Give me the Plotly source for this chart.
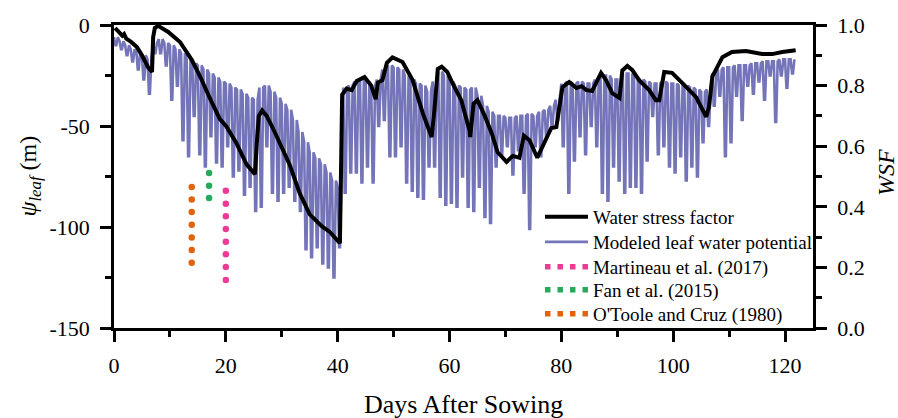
import plotly.graph_objects as go

# ---------------- data ----------------
# Water stress factor (right axis): day, WSF
wsf_day = [0.2, 1.0, 1.5, 1.8, 2.2, 3.0, 4.1, 5.0, 6.1, 6.8, 7.0, 7.3, 7.9, 9.7, 11.8, 13.9,
           15.4, 17.1, 18.9, 20.1, 21.9, 23.7, 25.2, 25.5, 25.9, 26.5, 27.3, 28.4, 29.6, 31.4,
           33.2, 35.0, 37.2, 38.6, 40.4, 40.6, 40.8, 41.6, 42.5, 43.4, 44.8, 46.0, 46.8, 47.2,
           48.0, 48.8, 49.8, 51.6, 53.4, 55.2, 56.8, 57.3, 57.9, 58.6, 59.6, 60.5, 62.1, 63.6,
           63.7, 64.3, 65.0, 66.3, 67.6, 68.6, 70.2, 71.3, 72.5, 73.3, 74.3, 75.7, 77.3, 78.2,
           79.1, 80.2, 81.4, 82.7, 83.6, 84.5, 85.5, 87.1, 88.0, 89.1, 90.4, 90.9, 91.8, 92.7,
           93.9, 95.7, 96.9, 97.5, 98.4, 99.8, 101.6, 104.1, 105.9, 106.4, 107.0, 108.8, 110.5,
           113.0, 115.9, 117.7, 119.5, 121.9]
wsf_val = [0.99, 0.975, 0.965, 0.97, 0.955, 0.945, 0.927, 0.9, 0.86, 0.845, 0.96, 0.99, 0.997,
           0.977, 0.944, 0.885, 0.83, 0.76, 0.69, 0.665, 0.61, 0.54, 0.508, 0.6, 0.7, 0.718, 0.7,
           0.66, 0.615, 0.54, 0.445, 0.375, 0.335, 0.317, 0.28, 0.6, 0.77, 0.79, 0.785, 0.815,
           0.828, 0.8, 0.755, 0.81, 0.818, 0.875, 0.893, 0.878, 0.818, 0.71, 0.63, 0.72, 0.855,
           0.862, 0.845, 0.809, 0.752, 0.65, 0.63, 0.74, 0.752, 0.7, 0.64, 0.58, 0.548, 0.568,
           0.562, 0.635, 0.62, 0.562, 0.63, 0.66, 0.663, 0.795, 0.812, 0.792, 0.798, 0.785, 0.782,
           0.842, 0.818, 0.775, 0.759, 0.85, 0.865, 0.851, 0.818, 0.785, 0.752, 0.752, 0.845,
           0.842, 0.809, 0.762, 0.697, 0.73, 0.83, 0.894, 0.911, 0.914, 0.904, 0.904, 0.911, 0.917]

# Modeled leaf water potential (m): daily (night) upper value and daily (midday) minimum, days 0..121
psi_upper = [-6, -8, -10, -12, -13, -15, -17, -9, -7, -9,
             -10, -12, -14, -17, -19, -20, -22, -24, -26, -28,
             -29, -31, -32, -34, -36, -37, -31, -30, -33, -36,
             -39, -42, -47, -53, -58, -63, -66, -69, -73, -77,
             -80, -31, -30, -28, -27, -28, -30, -27, -22, -20,
             -21, -22, -25, -27, -29, -30, -33, -28, -23, -25,
             -28, -30, -31, -32, -31, -35, -40, -43, -45, -45,
             -46, -46, -45, -45, -44, -45, -43, -42, -40, -37,
             -29, -28, -29, -28, -29, -29, -27, -25, -25, -27,
             -27, -24, -24, -26, -27, -28, -29, -29, -28, -29,
             -29, -30, -30, -31, -32, -33, -32, -24, -22, -21,
             -21, -20, -20, -20, -19, -19, -18, -18, -18, -17,
             -17, -17]
psi_lower = [-10, -12, -15, -18, -22, -27, -34, -14, -14, -20,
             -37, -30, -57, -65, -45, -64, -70, -55, -68, -70,
             -60, -75, -72, -84, -80, -92, -90, -60, -83, -87,
             -83, -80, -87, -92, -111, -115, -110, -118, -120, -125,
             -110, -83, -73, -73, -78, -70, -78, -50, -47, -65,
             -65, -60, -78, -82, -85, -86, -70, -70, -85, -89,
             -88, -90, -75, -90, -92, -80, -95, -98, -70, -64,
             -60, -74, -62, -83, -101, -60, -65, -55, -50, -47,
             -60, -83, -67, -55, -64, -50, -60, -83, -87, -70,
             -77, -83, -80, -80, -83, -67, -45, -64, -60, -70,
             -73, -65, -77, -70, -75, -58, -50, -40, -35, -65,
             -58, -35, -47, -30, -34, -28, -37, -25, -48, -25,
             -31, -24]

# Observed leaf water potential (m)
martineau_day = 20.0
martineau_psi = [-82, -88.5, -94.7, -101, -107.3, -113.5, -119.8, -126.2]
fan_day = 17.0
fan_psi = [-73.3, -79.6, -85.7]
otoole_day = 13.9
otoole_psi = [-80.2, -86.4, -92.6, -98.9, -105.2, -111.4, -117.7]

y_tickvals = [-150, -100, -50, 0]
y_ticktext = ["-150", "-100", "-50", "0"]

# ---------------- build ----------------
# each day: night value, midday drop, recovery
psi_x, psi_y = [], []
for i, (u, lo) in enumerate(zip(psi_upper, psi_lower)):
    psi_x += [i, i + 0.25, i + 0.42, i + 0.68]
    psi_y += [u, lo, lo, u]

FONT = '"Liberation Serif", "Times New Roman", Times, serif'
PURPLE = "#7474B9"
PINK = "#EC3A95"
GREEN = "#27A85A"
ORANGE = "#E0640F"

fig = go.Figure()

fig.add_trace(go.Scatter(x=psi_x, y=psi_y, mode="lines", name="Modeled leaf water potential",
                         line=dict(color=PURPLE, width=2.6), legend="legend2"))
fig.add_trace(go.Scatter(x=wsf_day, y=wsf_val, mode="lines", name="Water stress factor",
                         line=dict(color="black", width=4), yaxis="y2", legend="legend"))

obs = [("Martineau et al. (2017)", martineau_day, martineau_psi, PINK, "legend3"),
       ("Fan et al. (2015)", fan_day, fan_psi, GREEN, "legend4"),
       ("O'Toole and Cruz (1980)", otoole_day, otoole_psi, ORANGE, "legend5")]
for name, day, vals, col, lg in obs:
    fig.add_trace(go.Scatter(x=[day] * len(vals), y=vals, mode="markers", name=name,
                             marker=dict(color=col, size=6.5), legendgroup=name,
                             showlegend=False))
    fig.add_trace(go.Scatter(x=[None], y=[None], mode="lines", name=name, legendgroup=name,
                             line=dict(color=col, width=5.5, dash="5.5px,7px"), legend=lg))

axis_common = dict(showgrid=False, zeroline=False, linecolor="black", linewidth=2.5,
                   ticks="outside", ticklen=11, tickwidth=2.5, tickcolor="black",
                   automargin=False,
                   tickfont=dict(family=FONT, size=22, color="black"))

leg_x = 0.6094
leg_ys = [0.3663, 0.2838, 0.2013, 0.1254, 0.0462]
legends = {}
for k, yy in enumerate(leg_ys):
    key = "legend" if k == 0 else f"legend{k + 1}"
    legends[key] = dict(x=leg_x, y=yy, xanchor="left", yanchor="middle",
                        bgcolor="rgba(0,0,0,0)", borderwidth=0,
                        font=dict(family=FONT, size=19, color="black"), itemwidth=43)

fig.update_layout(
    width=898, height=418,
    margin=dict(l=114, r=85, t=25, b=90, autoexpand=False),
    paper_bgcolor="white", plot_bgcolor="white",
    font=dict(family=FONT, color="black"),
    xaxis=dict(range=[0, 125], dtick=20, tick0=0, mirror=True,
               minor=dict(dtick=10, ticks="outside", ticklen=6, tickwidth=2.5, tickcolor="black"),
               ticklabelstandoff=5,
               **axis_common),
    yaxis=dict(range=[-150, 0], tickmode="array", tickvals=y_tickvals, ticktext=y_ticktext,
               minor=dict(tickmode="linear", tick0=0, dtick=25, ticks="outside", ticklen=6,
                          tickwidth=2.5, tickcolor="black"),
               ticklabelstandoff=6,
               **axis_common),
    yaxis2=dict(range=[0, 1], dtick=0.2, tick0=0, overlaying="y", side="right",
                tickformat=".1f",
                minor=dict(dtick=0.1, ticks="outside", ticklen=6, tickwidth=2.5, tickcolor="black"),
                ticklabelstandoff=6,
                **axis_common),
    annotations=[
        dict(text="Days After Sowing", xref="paper", yref="paper", x=0.5, y=-0.254,
             xanchor="center", yanchor="middle", showarrow=False,
             font=dict(family=FONT, size=26, color="black")),
        dict(text="<i>ψ</i><sub><i>leaf</i></sub> (m)", xref="paper", yref="paper",
             x=-0.1216, y=0.5, xanchor="center", yanchor="middle", textangle=-90,
             showarrow=False, font=dict(family=FONT, size=24, color="black")),
        dict(text="<i>WSF</i>", xref="paper", yref="paper", x=1.1044, y=0.515,
             xanchor="center", yanchor="middle", textangle=-90, showarrow=False,
             font=dict(family=FONT, size=24, color="black")),
    ],
    showlegend=True,
    **legends,
)

fig.write_html("out.html")
